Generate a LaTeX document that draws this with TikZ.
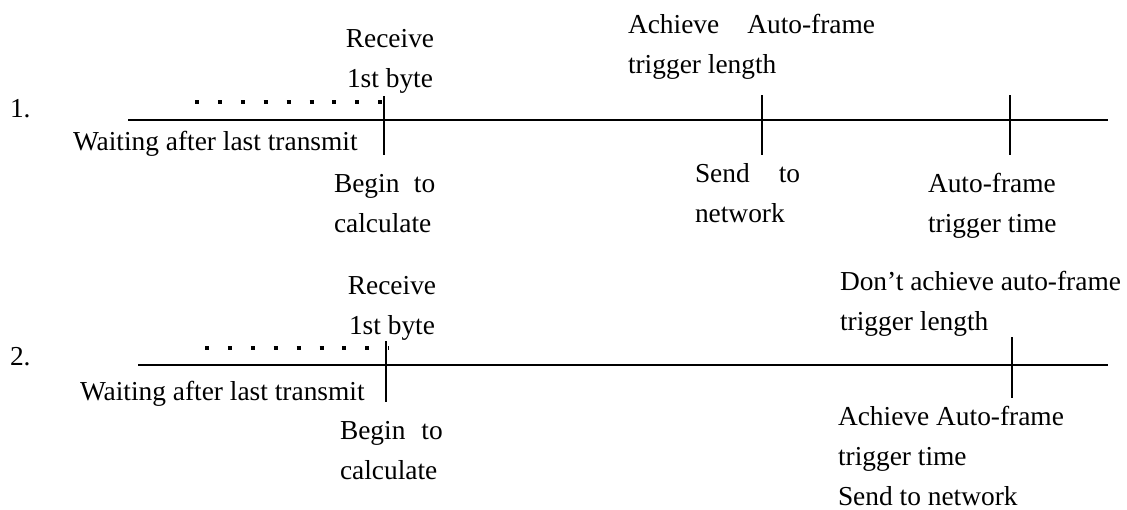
\documentclass[tikz,border=0pt]{standalone}
\usepackage{fontspec}
\setmainfont{Liberation Serif}
\usepackage{tikz}

\begin{document}
\begin{tikzpicture}[x=1pt, y=-1pt]
    \tikzstyle{lbl}=[font=\fontsize{27.4}{40}\selectfont, inner sep=0pt, outer sep=0pt]
    \tikzstyle{timeline}=[line width=2.5pt]
    \tikzstyle{stamp}=[line width=1.8pt]
    \tikzstyle{wait}=[line width=4pt, dash pattern=on 4pt off 18.9pt]
  \useasboundingbox (0,0) rectangle (1127,509);

  %% case 1
  \coordinate (s1) at (128,120);
  \coordinate (e1) at (1108,120);
  \coordinate (ra) at (384,96);  \coordinate (rb) at (384,155);
  \coordinate (na) at (762,95);  \coordinate (nb) at (762,155);
  \coordinate (ta) at (1010,95); \coordinate (tb) at (1010,155);
  \coordinate (wa) at (195,102); \coordinate (wb) at (384,102);

  \draw[timeline] (s1) -- (e1);
  \draw[stamp] (ra) -- (rb);
  \draw[stamp] (na) -- (nb);
  \draw[stamp] (ta) -- (tb);
  \draw[wait] (wa) -- (wb);

  \node (one) at (10,117) [lbl,anchor=base west] {1.};
  \node (recv1) at (390,29) [lbl,anchor=north,align=center] {Receive\\1st byte};
  \node (idle1) at (73,150) [lbl,anchor=base west] {Waiting after last transmit};
  \node (calc1) at (334,174) [lbl,anchor=north west,align=left] {Begin\hspace{14.5pt}to\\calculate};
  \node (len1) at (628,14) [lbl,anchor=north west,align=left] {Achieve\hspace{28pt}Auto-frame\\trigger length};
  \node (send1) at (695,163) [lbl,anchor=north west,align=left] {Send\hspace{29pt}to\\network};
  \node (time1) at (928,173) [lbl,anchor=north west,align=left] {Auto-frame\\trigger time};

  %% case 2
  \coordinate (s2) at (138,365);
  \coordinate (e2) at (1108,365);
  \coordinate (rc) at (386,341);  \coordinate (rd) at (386,402);
  \coordinate (tc) at (1012,337); \coordinate (td) at (1012,398);
  \coordinate (wc) at (205,348);  \coordinate (wd) at (389,348);

  \draw[timeline] (s2) -- (e2);
  \draw[stamp] (rc) -- (rd);
  \draw[stamp] (tc) -- (td);
  \draw[wait] (wc) -- (wd);

  \node (two) at (10,365) [lbl,anchor=base west] {2.};
  \node (recv2) at (392,276) [lbl,anchor=north,align=center] {Receive\\1st byte};
  \node (idle2) at (80,400) [lbl,anchor=base west] {Waiting after last transmit};
  \node (calc2) at (340,421) [lbl,anchor=north west,align=left] {Begin\hspace{16pt}to\\calculate};
  \node (len2) at (840,271) [lbl,anchor=north west,align=left] {Don’t achieve auto-frame\\trigger length};
  \node (time2) at (838,406) [lbl,anchor=north west,align=left] {Achieve Auto-frame\\trigger time\\Send to network};
\end{tikzpicture}
\end{document}
